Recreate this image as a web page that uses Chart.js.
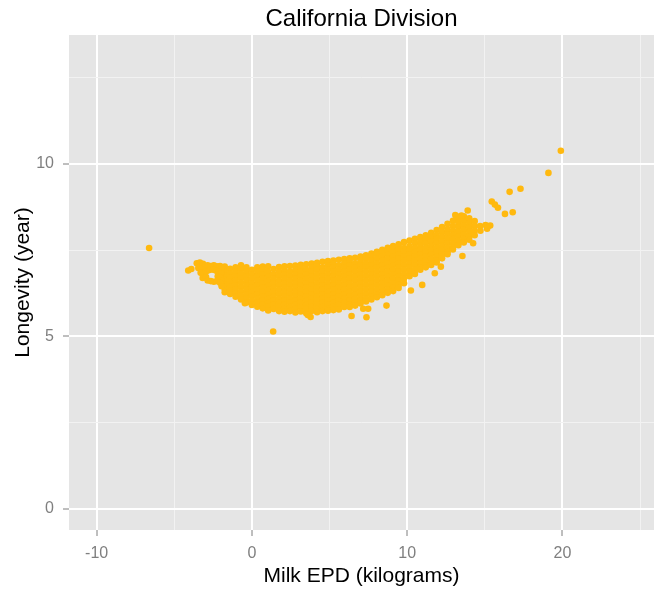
<!DOCTYPE html>
<html>
<head>
<meta charset="utf-8">
<title>California Division</title>
<script src="https://cdn.jsdelivr.net/npm/chart.js@4/dist/chart.umd.min.js"></script>
<style>
  html, body { margin: 0; padding: 0; background: #ffffff; }
  #wrap { width: 654px; height: 591px; }
</style>
</head>
<body>
<div id="wrap"><canvas id="chart" width="654" height="591"></canvas></div>
<script>
// Milk EPD (kg) vs. longevity (years), California division herd records.
// Dense band stored as columns: [milk EPD, [longevity values at that EPD]].
const bandWest = [
  [-1.75, [7.02, 6.89, 6.76, 6.63, 6.50, 6.37, 6.28]],
  [-1.40, [6.96, 6.83, 6.70, 6.57, 6.44, 6.32, 6.23]],
  [-1.05, [7.00, 6.87, 6.74, 6.61, 6.48, 6.35, 6.23, 6.15]],
  [-0.70, [7.06, 6.94, 6.81, 6.68, 6.55, 6.42, 6.29, 6.17, 6.07]],
  [-0.35, [7.00, 6.87, 6.74, 6.61, 6.48, 6.35, 6.22, 6.09, 5.98]],
  [0.00, [6.93, 6.80, 6.67, 6.54, 6.41, 6.28, 6.16, 6.03, 5.91]],
  [0.35, [7.00, 6.87, 6.74, 6.61, 6.48, 6.35, 6.22, 6.09, 5.97, 5.86]],
  [0.70, [7.02, 6.93, 6.80, 6.67, 6.54, 6.41, 6.28, 6.15, 6.03, 5.91, 5.81]],
  [1.05, [7.03, 6.87, 6.74, 6.61, 6.48, 6.35, 6.22, 6.09, 5.97, 5.86, 5.75]],
  [1.40, [6.95, 6.80, 6.67, 6.54, 6.41, 6.28, 6.15, 6.03, 5.91, 5.79]],
  [1.75, [7.01, 6.87, 6.74, 6.61, 6.48, 6.35, 6.22, 6.09, 5.97, 5.85, 5.73]],
  [2.10, [7.03, 6.93, 6.80, 6.67, 6.54, 6.41, 6.28, 6.15, 6.03, 5.91, 5.79, 5.71]],
  [2.45, [7.04, 6.87, 6.74, 6.61, 6.48, 6.35, 6.22, 6.09, 5.97, 5.85, 5.73]],
  [2.80, [7.05, 6.93, 6.80, 6.67, 6.54, 6.41, 6.28, 6.15, 6.03, 5.91, 5.79, 5.69]],
  [3.15, [7.07, 6.98, 6.87, 6.74, 6.61, 6.48, 6.35, 6.22, 6.09, 5.97, 5.85, 5.72]],
  [3.50, [7.09, 6.93, 6.80, 6.67, 6.54, 6.41, 6.28, 6.15, 6.03, 5.91, 5.79, 5.67]],
  [3.85, [7.11, 7.00, 6.87, 6.74, 6.61, 6.48, 6.35, 6.22, 6.09, 5.97, 5.85, 5.73]],
  [4.20, [7.13, 7.02, 6.93, 6.80, 6.67, 6.54, 6.41, 6.28, 6.15, 6.03, 5.91, 5.79, 5.70]],
  [4.55, [7.16, 7.00, 6.87, 6.74, 6.61, 6.48, 6.35, 6.22, 6.09, 5.97, 5.85, 5.73]]
];

const bandCentral = [
  [4.90, [7.18, 7.06, 6.93, 6.80, 6.67, 6.54, 6.41, 6.28, 6.15, 6.03, 5.91, 5.79, 5.74]],
  [5.25, [7.20, 7.10, 7.00, 6.87, 6.74, 6.61, 6.48, 6.35, 6.22, 6.09, 5.97, 5.85, 5.76]],
  [5.60, [7.22, 7.06, 6.93, 6.80, 6.67, 6.54, 6.41, 6.28, 6.15, 6.03, 5.91, 5.78]],
  [5.95, [7.24, 7.12, 7.00, 6.87, 6.74, 6.61, 6.48, 6.35, 6.22, 6.09, 5.97, 5.85]],
  [6.30, [7.26, 7.19, 7.06, 6.93, 6.80, 6.67, 6.54, 6.41, 6.28, 6.15, 6.03, 5.91, 5.85]],
  [6.65, [7.28, 7.12, 7.00, 6.87, 6.74, 6.61, 6.48, 6.35, 6.22, 6.09, 5.97, 5.89]],
  [7.00, [7.31, 7.19, 7.06, 6.93, 6.80, 6.67, 6.54, 6.41, 6.28, 6.15, 6.03, 5.95]],
  [7.35, [7.35, 7.25, 7.12, 7.00, 6.87, 6.74, 6.61, 6.48, 6.35, 6.22, 6.09, 6.01]],
  [7.70, [7.40, 7.31, 7.19, 7.06, 6.93, 6.80, 6.67, 6.54, 6.41, 6.28, 6.15, 6.07]],
  [8.05, [7.45, 7.38, 7.25, 7.12, 7.00, 6.87, 6.74, 6.61, 6.48, 6.35, 6.22, 6.13]],
  [8.40, [7.51, 7.44, 7.31, 7.19, 7.06, 6.93, 6.80, 6.67, 6.54, 6.41, 6.28, 6.19]],
  [8.75, [7.57, 7.50, 7.38, 7.25, 7.12, 7.00, 6.87, 6.74, 6.61, 6.48, 6.35, 6.26]],
  [9.10, [7.62, 7.56, 7.44, 7.31, 7.19, 7.06, 6.93, 6.80, 6.67, 6.54, 6.41, 6.31]],
  [9.45, [7.67, 7.62, 7.50, 7.38, 7.25, 7.12, 7.00, 6.87, 6.74, 6.61, 6.49, 6.40]],
  [9.80, [7.73, 7.56, 7.44, 7.31, 7.19, 7.06, 6.93, 6.80, 6.67, 6.54]]
];

const bandEast = [
  [10.15, [7.78, 7.62, 7.50, 7.38, 7.25, 7.12, 7.00, 6.87, 6.74]],
  [10.50, [7.83, 7.70, 7.56, 7.44, 7.31, 7.19, 7.06, 6.93, 6.81]],
  [10.85, [7.88, 7.75, 7.62, 7.50, 7.38, 7.25, 7.12, 7.00, 6.93]],
  [11.20, [7.93, 7.82, 7.70, 7.56, 7.44, 7.31, 7.19, 7.06, 7.00]],
  [11.55, [8.00, 7.88, 7.75, 7.62, 7.50, 7.38, 7.25, 7.12, 7.07]],
  [11.90, [8.08, 7.94, 7.82, 7.70, 7.56, 7.44, 7.31, 7.19, 7.14]],
  [12.25, [8.17, 8.02, 7.88, 7.75, 7.62, 7.50, 7.38, 7.26]],
  [12.60, [8.26, 8.10, 7.96, 7.82, 7.70, 7.56, 7.44, 7.38]],
  [12.95, [8.35, 8.20, 8.06, 7.94, 7.82, 7.70, 7.58, 7.52]],
  [13.30, [8.44, 8.30, 8.16, 8.02, 7.90, 7.76, 7.64]],
  [13.65, [8.48, 8.36, 8.22, 8.09, 7.96, 7.83, 7.72]],
  [14.00, [8.42, 8.29, 8.16, 8.03, 7.90, 7.80]],
  [14.35, [8.34, 8.20, 8.06, 7.93]]
];

// Sparse records at the low-EPD end: [milk EPD, longevity]
const westTail = [
  [-4.10, 6.91], [-3.90, 6.95],
  [-3.55, 7.12], [-3.35, 7.14], [-3.15, 7.10],
  [-3.45, 6.98], [-3.22, 6.96], [-3.00, 7.02], [-2.85, 7.06], [-2.65, 7.04],
  [-2.45, 7.06], [-2.25, 7.03], [-2.05, 7.04], [-1.95, 6.95],
  [-3.30, 6.84], [-3.12, 6.82], [-2.95, 6.88], [-2.75, 6.92], [-2.50, 6.93],
  [-2.30, 6.90], [-2.15, 6.86], [-2.00, 6.82],
  [-3.17, 6.69], [-2.95, 6.72], [-2.20, 6.74], [-2.05, 6.70], [-1.95, 6.60],
  [-2.85, 6.62], [-2.65, 6.60], [-2.45, 6.58], [-2.25, 6.60], [-2.05, 6.55],
  [-1.95, 6.45]
];

// Sparse records at the high-EPD end of the band
const eastTail = [
  [13.10, 8.52], [13.18, 8.48], [13.50, 8.50], [13.90, 8.65],
  [14.70, 8.20], [14.72, 8.06], [15.05, 8.23], [15.15, 8.12], [15.35, 8.21]
];

// Isolated records away from the main band
const outliers = [
  [-6.62, 7.56], [-0.45, 5.96], [1.37, 5.14],
  [3.60, 5.62], [3.78, 5.56], [6.42, 5.59],
  [7.17, 5.80], [7.49, 5.80], [7.38, 5.55], [8.67, 5.89],
  [10.24, 6.33], [10.97, 6.49], [11.78, 6.83], [12.17, 7.02],
  [13.56, 7.33], [14.25, 7.70],
  [15.45, 8.91], [15.65, 8.82], [15.85, 8.73],
  [16.30, 8.55], [16.80, 8.60], [16.60, 9.19], [17.30, 9.28],
  [19.10, 9.74], [19.90, 10.38]
];

// Axis ticks: every 5 (x) / 2.5 (y) gets a grid line, only some are labelled
const xGridTicks = [-10, -5, 0, 5, 10, 15, 20, 25];
const xLabelTicks = [-10, 0, 10, 20];
const yGridTicks = [0, 2.5, 5, 7.5, 10, 12.5];
const yLabelTicks = [0, 5, 10];

const pointColour = '#FFB90F';
const fontFamily = "'Liberation Sans', Arial, Helvetica, sans-serif";

const records = [];
[bandWest, bandCentral, bandEast].forEach(cols =>
  cols.forEach(([epd, values]) => values.forEach(v => records.push({ x: epd, y: v })))
);
[westTail, eastTail, outliers].forEach(list =>
  list.forEach(([epd, v]) => records.push({ x: epd, y: v }))
);

// Grey panel behind the grid
const panelBackground = {
  id: 'panelBackground',
  beforeDraw(chart) {
    const { ctx, chartArea: { left, top, width, height } } = chart;
    ctx.save();
    ctx.fillStyle = '#E5E5E5';
    ctx.fillRect(left, top, width, height);
    ctx.restore();
  }
};

function isLabelled(list, ctx) {
  return ctx.tick && list.includes(ctx.tick.value);
}

function gridFor(labelled) {
  return {
    color: ctx => isLabelled(labelled, ctx) ? '#FFFFFF' : '#F2F2F2',
    lineWidth: ctx => isLabelled(labelled, ctx) ? 2 : 1,
    tickColor: ctx => isLabelled(labelled, ctx) ? '#7F7F7F' : 'rgba(0,0,0,0)',
    tickLength: 6,
    tickWidth: 1,
    drawTicks: true
  };
}

new Chart(document.getElementById('chart'), {
  type: 'scatter',
  data: {
    datasets: [{
      data: records,
      backgroundColor: pointColour,
      borderWidth: 0,
      pointRadius: 3.3,
      pointHoverRadius: 3.3
    }]
  },
  options: {
    responsive: false,
    animation: false,
    events: [],
    layout: { autoPadding: false, padding: { left: 0, right: 0, top: 0, bottom: 0 } },
    plugins: {
      legend: { display: false },
      tooltip: { enabled: false },
      title: {
        display: true,
        text: 'California Division',
        color: '#000000',
        fullSize: false,
        font: { family: fontFamily, size: 24, weight: 'normal', lineHeight: 1.2 },
        padding: { top: 4.6, bottom: 1.6 }
      }
    },
    scales: {
      x: {
        type: 'linear',
        position: 'bottom',
        min: -11.78,
        max: 25.9,
        afterBuildTicks: s => { s.ticks = xGridTicks.map(v => ({ value: v })); },
        afterFit: s => { s.height = 61; },
        border: { display: false },
        grid: gridFor(xLabelTicks),
        ticks: {
          autoSkip: false,
          maxRotation: 0,
          padding: 8,
          color: '#7F7F7F',
          font: { family: fontFamily, size: 16 },
          callback: v => xLabelTicks.includes(v) ? String(v) : ''
        },
        title: {
          display: true,
          text: 'Milk EPD (kilograms)',
          color: '#000000',
          font: { family: fontFamily, size: 21, lineHeight: 1.2 },
          padding: { top: 0, bottom: 2.4 }
        }
      },
      y: {
        type: 'linear',
        position: 'left',
        min: -0.62,
        max: 13.74,
        afterBuildTicks: s => { s.ticks = yGridTicks.map(v => ({ value: v })); },
        afterFit: s => { s.width = 69; },
        border: { display: false },
        grid: gridFor(yLabelTicks),
        ticks: {
          autoSkip: false,
          padding: 9,
          color: '#7F7F7F',
          font: { family: fontFamily, size: 16 },
          callback: v => yLabelTicks.includes(v) ? String(v) : ''
        },
        title: {
          display: true,
          text: 'Longevity (year)',
          color: '#000000',
          font: { family: fontFamily, size: 21, lineHeight: 1.2 },
          padding: { top: 10.4, bottom: 0 }
        }
      }
    }
  },
  plugins: [panelBackground]
});
</script>
</body>
</html>
